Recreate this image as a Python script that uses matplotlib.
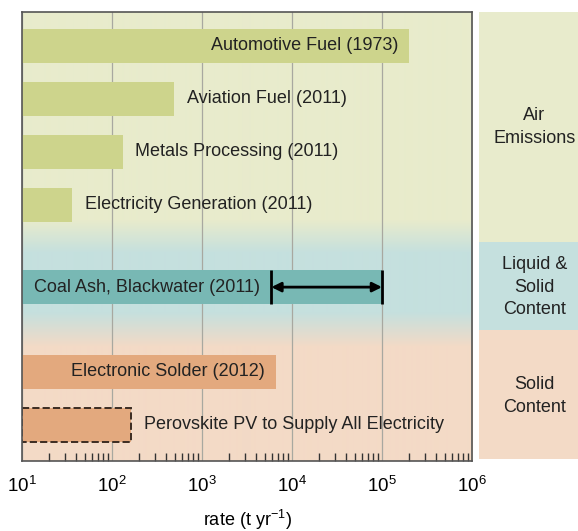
import numpy as np
import matplotlib
matplotlib.use("Agg")
import matplotlib.pyplot as plt
from matplotlib.colors import to_rgb

plt.rcParams["font.family"] = ["Liberation Sans", "DejaVu Sans"]
plt.rcParams["mathtext.fontset"] = "custom"
plt.rcParams["mathtext.rm"] = "Liberation Sans"
plt.rcParams["mathtext.it"] = "Liberation Sans:italic"

# Release rates (t/yr)
labels = ["Automotive Fuel (1973)", "Aviation Fuel (2011)", "Metals Processing (2011)",
          "Electricity Generation (2011)", "Coal Ash, Blackwater (2011)",
          "Electronic Solder (2012)", "Perovskite PV to Supply All Electricity"]
values = [2.0e5, 490, 132, 36, 1.0e5, 6.6e3, 163]
groups = ["air", "air", "air", "air", "liquid", "solid", "solid"]
label_inside = [True, False, False, False, True, True, False]
coal_range = [5.9e3, 1.0e5]
rows = [1, 2, 3, 4, 5.55, 7.15, 8.15]

categories = ["Air\nEmissions", "Liquid &\nSolid\nContent", "Solid\nContent"]

bar_colors = {"air": "#cdd48c", "liquid": "#78b8b4", "solid": "#e3a97e"}
bg_colors = {"air": "#e8ebcc", "liquid": "#c5e0de", "solid": "#f3dac6"}

W, H = 578, 531
fig = plt.figure(figsize=(W / 100, H / 100), dpi=100)
ax_l, ax_r, ax_t, ax_b = 22, 472, 12, 461
ax = fig.add_axes([ax_l / W, 1 - ax_b / H, (ax_r - ax_l) / W, (ax_b - ax_t) / H])

ax.set_xscale("log")
ax.set_xlim(10, 1e6)
ax.set_ylim(8.83, 0.36)

# Vertical background gradient: air -> liquid -> solid
n = ax_b - ax_t
ypix = np.arange(n) + ax_t
c_air, c_liq, c_sol = (np.array(to_rgb(bg_colors[k])) for k in ("air", "liquid", "solid"))
img = np.zeros((n, 1, 3))
for i, yp in enumerate(ypix):
    if yp < 220:
        c = c_air
    elif yp < 252:
        t = (yp - 220) / 32
        c = (1 - t) * c_air + t * c_liq
    elif yp < 312:
        c = c_liq
    elif yp < 346:
        t = (yp - 312) / 34
        c = (1 - t) * c_liq + t * c_sol
    else:
        c = c_sol
    img[i, 0] = c
ax.imshow(img, extent=[0, 1, 0, 1], transform=ax.transAxes, aspect="auto", zorder=0,
          interpolation="bilinear")

ax.grid(True, which="major", axis="x", color="#a8a8a0", linewidth=0.9, zorder=1)

bar_h = 0.64
for lab, v, g, inside, y in zip(labels, values, groups, label_inside, rows):
    dashed = lab.startswith("Perovskite")
    ax.barh(y, v - 10, left=10, height=bar_h, color=bar_colors[g], zorder=2,
            edgecolor="#3b2c22" if dashed else "none",
            linestyle="--" if dashed else "-", linewidth=1.4 if dashed else 0)
    end = coal_range[0] if lab.startswith("Coal") else v
    if inside:
        ax.annotate(lab, (end, y), xytext=(-8, 0), textcoords="offset points",
                    ha="right", va="center", fontsize=13, color="#222222", zorder=4)
    else:
        ax.annotate(lab, (end, y), xytext=(9, 0), textcoords="offset points",
                    ha="left", va="center", fontsize=13, color="#222222", zorder=4)

# Range marker for coal ash
y_coal = rows[4]
ax.vlines(coal_range, y_coal - bar_h / 2, y_coal + bar_h / 2, color="black", linewidth=2, zorder=5)
ax.annotate("", xy=(coal_range[1], y_coal), xytext=(coal_range[0], y_coal),
            arrowprops=dict(arrowstyle="<|-|>", color="black", lw=2,
                            mutation_scale=14, shrinkA=0, shrinkB=0), zorder=5)

ax.set_yticks([])
ax.set_xticks([1e1, 1e2, 1e3, 1e4, 1e5, 1e6])
ax.set_xticklabels([r"$10^{%d}$" % k for k in range(1, 7)])
ax.tick_params(axis="x", which="major", length=0, pad=11, labelsize=13.5)
ax.tick_params(axis="x", which="minor", direction="in", length=6, width=1, color="#333333")
for s in ax.spines.values():
    s.set_color("#555555")
    s.set_linewidth(1.2)
    s.set_zorder(6)
ax.set_xlabel(r"rate (t yr$^{-1}$)", fontsize=13, labelpad=8)

# Category column on the right
col_l, col_r = 479, 578
bounds = [(12, 242), (242, 330), (330, 459)]
cax = fig.add_axes([col_l / W, 1 - 459 / H, (col_r - col_l) / W, (459 - 12) / H])
cax.set_xlim(0, 1)
cax.set_ylim(459, 12)
cax.axis("off")
for (y0, y1), key, cat in zip(bounds, ["air", "liquid", "solid"], categories):
    cax.axhspan(y0, y1, color=bg_colors[key], lw=0)
centers = [127, 287, 396]
for cat, yc in zip(categories, centers):
    cax.text(0.56, yc, cat, ha="center", va="center", fontsize=13, color="#222222",
             linespacing=1.4)

fig.savefig("out.png", dpi=100)
